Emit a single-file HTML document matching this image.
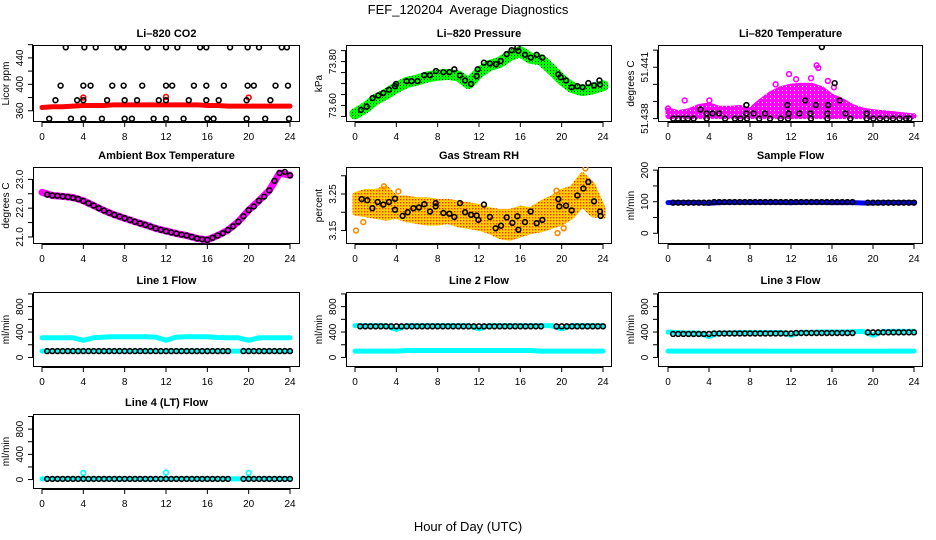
<!DOCTYPE html>
<html><head><meta charset="utf-8"><style>
html,body{margin:0;padding:0;background:#fff}
svg{display:block;font-family:"Liberation Sans",sans-serif}
</style></head><body>
<svg id="chart" width="936" height="540" viewBox="0 0 936 540" xmlns="http://www.w3.org/2000/svg">
<defs>
<pattern id="pgreen" width="3" height="3" patternUnits="userSpaceOnUse"><rect width="3" height="3" fill="#00ff00"/><rect x="1" y="1" width="1" height="1" fill="#004400"/></pattern>
<pattern id="porange" width="3" height="3" patternUnits="userSpaceOnUse"><rect width="3" height="3" fill="#ffd000"/><rect x="1" y="1" width="1.4" height="1.4" fill="#ff3000"/></pattern>
<pattern id="pmag" width="4" height="4" patternUnits="userSpaceOnUse"><rect width="4" height="4" fill="#ff00ff"/><rect x="2" y="2" width="1" height="1" fill="#ffffff"/></pattern>
</defs>
<text x="468" y="14" font-size="13" text-anchor="middle">FEF_120204&#160; Average Diagnostics</text>
<text x="468" y="531" font-size="13" text-anchor="middle">Hour of Day (UTC)</text>
</svg>
<script>
// ---------- data ----------
const hourTicks = [0,4,8,12,16,20,24];
const hours = [0,1,2,3,4,5,6,7,8,9,10,11,12,13,14,15,16,17,18,19,20,21,22,23,24];
const halfHours = [0.5,1,1.5,2,2.5,3,3.5,4,4.5,5,5.5,6,6.5,7,7.5,8,8.5,9,9.5,10,10.5,11,11.5,12,12.5,13,13.5,14,14.5,15,15.5,16,16.5,17,17.5,18,18.5,19,19.5,20,20.5,21,21.5,22,22.5,23,23.5,24];

// CO2
const co2Red = [365,366,366,367,368,368,368,369,369,369,369,369,369,369,369,369,368,368,367,367,367,367,367,367,367];
const co2RedOutHours = [4,12,20];
const co2RedOutVals = [380,381,380];
const co2BlkHours = [2.3,4.1,5.2,7.3,7.9,10.2,12.0,13.1,15.3,15.9,18.2,19.9,21.0,23.2,23.7,
 1.8,4.0,4.7,6.8,7.9,9.7,12.0,12.6,14.7,15.9,17.6,19.9,20.5,22.6,23.8,
 1.3,3.4,4.0,6.3,8.0,9.2,11.3,12.0,14.2,15.9,17.1,19.8,22.1,
 0.7,2.8,4.0,5.8,8.0,8.7,10.8,12.0,13.7,16.0,16.6,19.8,21.6,23.9];
const co2BlkVals = [456,456,456,456,456,456,456,456,456,456,456,456,456,456,456,
 398,398,398,398,398,398,398,398,398,398,398,398,398,398,398,
 376,376,376,376,376,376,376,376,376,376,376,376,376,
 348,348,348,348,348,348,348,348,348,348,348,348,348,348];

// Pressure
const presGreen = [73.562,73.590,73.628,73.652,73.682,73.705,73.716,73.730,73.738,73.742,73.735,73.700,73.750,73.782,73.796,73.828,73.845,73.815,73.808,73.765,73.718,73.682,73.668,73.676,73.690];
const presBlkHours = [0.58,1.13,1.71,2.26,2.74,3.29,3.87,3.97,5.0,5.48,6.06,6.71,7.26,7.84,8.55,9.13,9.61,10.16,10.65,11.23,11.77,11.87,12.48,13.06,13.65,14.10,14.68,15.16,15.71,15.81,16.45,17.0,17.58,18.13,19.68,19.9,20.42,20.97,21.52,22.03,22.58,23.13,23.65,23.71];
const presBlkVals = [73.580,73.595,73.634,73.646,73.657,73.672,73.688,73.698,73.711,73.711,73.711,73.738,73.738,73.757,73.752,73.752,73.765,73.737,73.714,73.698,73.734,73.765,73.795,73.791,73.788,73.803,73.834,73.852,73.865,73.849,73.831,73.818,73.831,73.818,73.742,73.729,73.714,73.683,73.688,73.683,73.702,73.692,73.714,73.695];

// Li-820 temperature
const tempHi = [51.43850,51.43835,51.43845,51.43870,51.43880,51.43860,51.43860,51.43865,51.43850,51.43900,51.43945,51.43975,51.43990,51.43995,51.43995,51.43975,51.43930,51.43905,51.43870,51.43850,51.43840,51.43835,51.43828,51.43822,51.43816];
const tempLo = [51.43812,51.43812,51.43812,51.43812,51.43812,51.43812,51.43812,51.43812,51.43812,51.43812,51.43812,51.43812,51.43812,51.43812,51.43812,51.43812,51.43812,51.43812,51.43812,51.43812,51.43812,51.43812,51.43812,51.43812,51.43812];
const tempOutHours = [14.5,14.66,11.81,1.63,16.19,4.03,13.95,0,12.5,10.5,15.6];
const tempOutVals = [51.44111,51.44096,51.4406,51.43906,51.43983,51.43906,51.44036,51.43859,51.44030,51.44000,51.44020];
const tempBlkHours = [0.51,0.99,1.47,1.95,2.5,3.78,5.57,6.53,7.07,7.71,8.9,9.95,11.0,11.71,13.95,15.55,17.79,19.39,20.03,20.67,21.31,21.95,22.59,23.23,23.55,
 3.78,4.35,4.99,7.65,8.35,9.47,11.78,12.83,13.89,15.55,17.31,19.39,
 3.17,7.65,11.65,13.38,14.43,15.62,16.77,16.26,15.01];
const tempBlkVals = [51.4380,51.4380,51.4380,51.4380,51.4380,51.4380,51.4380,51.4380,51.4380,51.4380,51.4380,51.4380,51.4380,51.4380,51.4380,51.4380,51.4380,51.4380,51.4380,51.4380,51.4380,51.4380,51.4380,51.4380,51.4380,
 51.4383,51.4383,51.4383,51.4383,51.4383,51.4383,51.4383,51.4383,51.4383,51.4383,51.4383,51.4383,
 51.43853,51.43879,51.43879,51.43906,51.43879,51.43879,51.43906,51.44007,51.44218];

// Ambient box temperature
const ambMag = [22.55,22.44,22.41,22.37,22.26,22.09,21.92,21.77,21.65,21.53,21.42,21.30,21.21,21.12,21.05,20.95,20.90,21.05,21.24,21.53,21.93,22.26,22.62,23.22,23.14];
const ambBlk = [22.47,22.44,22.43,22.41,22.39,22.36,22.32,22.25,22.17,22.09,22.0,21.92,21.84,21.77,21.71,21.65,21.59,21.53,21.47,21.42,21.36,21.30,21.25,21.2,21.16,21.12,21.08,21.05,21.0,20.95,20.92,20.9,20.97,21.05,21.13,21.24,21.37,21.53,21.72,21.93,22.06,22.26,22.4,22.62,22.95,23.22,23.26,23.14];

// Gas stream RH
const rhHi = [3.2481,3.2573,3.2573,3.2665,3.2389,3.2389,3.2344,3.2344,3.2298,3.2298,3.2252,3.2206,3.2160,3.2069,3.2023,3.2023,3.2114,3.2069,3.2252,3.2389,3.2573,3.2665,3.3031,3.2757,3.2114];
const rhLo = [3.1977,3.1931,3.1885,3.1839,3.1885,3.1793,3.1748,3.1702,3.1702,3.1748,3.1656,3.1610,3.1564,3.1472,3.1335,3.1289,3.1381,3.1472,3.1518,3.1610,3.1702,3.1885,3.2206,3.1931,3.1885];
const rhOutHours = [0.1,0.8,2.8,4.2,19.5,19.6,20.2,22.3];
const rhOutVals = [3.150,3.173,3.271,3.257,3.259,3.143,3.156,3.320];
const rhBlkHours = [0.65,1.19,1.68,2.19,2.74,3.29,3.87,3.87,4.61,5.10,5.65,6.19,6.71,7.26,7.81,7.81,8.55,9.13,9.61,10.16,10.65,11.23,11.77,11.94,12.48,13.06,13.61,14.13,14.68,15.23,15.71,15.81,16.45,17.0,17.58,18.13,19.68,19.77,20.42,20.97,21.52,22.10,22.58,23.13,23.71,23.77];
const rhBlkVals = [3.236,3.233,3.211,3.228,3.221,3.228,3.237,3.207,3.190,3.200,3.211,3.213,3.222,3.202,3.225,3.216,3.198,3.196,3.187,3.225,3.200,3.193,3.191,3.179,3.221,3.187,3.156,3.163,3.186,3.171,3.189,3.152,3.173,3.202,3.170,3.179,3.236,3.216,3.218,3.205,3.246,3.265,3.283,3.230,3.202,3.190];

// Sample flow
const sampleBlue = [97,97,97,97,95,97,98,98,98,98,98,98,97,98,98,98,97,97,97,96,96,97,97,97,97];
const sampleBlk = [97,97,97,97,97,97,97,97,99,99,99,99,99,99,99,99,99,99,99,99,99,99,99,99,99,99,99,99,99,99,99,99,99,99,99,99,null,null,97,97,97,97,97,97,97,97,97,97];

// Line flows
const l1CyanHi = [310,310,310,310,270,310,320,325,325,325,325,320,270,320,325,325,325,315,310,310,270,310,310,310,310];
const l1CyanLo = [100,100,100,100,100,100,100,100,100,100,100,100,100,100,100,100,100,100,100,100,100,100,100,100,100];
const l1Blk = [100,100,100,100,100,100,100,100,100,100,100,100,100,100,100,100,100,100,100,100,100,100,100,100,100,100,100,100,100,100,100,100,100,100,100,100,null,null,100,100,100,100,100,100,100,100,100,100];
const l2CyanHi = [500,500,500,500,440,500,500,500,500,500,500,500,450,500,500,500,500,500,500,500,450,500,500,500,500];
const l2CyanLo = [100,100,100,100,100,110,110,110,110,110,110,110,110,110,110,110,110,110,100,100,100,100,100,100,100];
const l2Blk = [490,490,490,490,490,490,490,490,490,490,490,490,490,490,490,490,490,490,490,490,490,490,490,490,490,490,490,490,490,490,490,490,490,490,490,490,null,null,490,490,490,490,490,490,490,490,490,490];
const l3CyanHi = [400,390,385,385,330,385,385,390,390,390,390,395,350,395,395,400,400,400,405,410,350,410,410,410,410];
const l3CyanLo = [100,100,100,100,100,100,100,100,100,100,100,100,100,100,100,100,100,100,100,100,100,100,100,100,100];
const l3Blk = [370,370,370,370,370,370,370,370,378,378,378,378,378,378,378,378,378,378,378,378,378,378,378,378,385,385,385,385,385,385,385,385,385,385,385,385,null,null,395,395,395,395,395,395,395,395,395,395];
const l4Cyan = [10,10,10,10,10,10,10,10,10,10,10,10,10,10,10,10,10,10,10,10,10,10,10,10,10];
const l4Blk = [10,10,10,10,10,10,10,10,10,10,10,10,10,10,10,10,10,10,10,10,10,10,10,10,10,10,10,10,10,10,10,10,10,10,10,10,null,null,10,10,10,10,10,10,10,10,10,10];
const l4OutHours = [4,12,20];
const l4OutVals = [105,110,105];

// ---------- drawing ----------
const NS = "http://www.w3.org/2000/svg";
const svg = document.getElementById('chart');
function mk(tag, parent, attrs){
  const e = document.createElementNS(NS, tag);
  for (const k in attrs) e.setAttribute(k, attrs[k]);
  parent.appendChild(e);
  return e;
}
const cols = [{l:33,r:300,x0:42,x24:290},{l:346,r:612,x0:355,x24:603},{l:658,r:923,x0:668,x24:914}];
const rows = [{t:45,b:122},{t:167,b:244},{t:292,b:367},{t:414,b:489}];

function panel(name, title, ytitle, c, r, ymin, ymax, yticks, ylabels, fmt){
  const C = cols[c], R = rows[r];
  const g = mk('g', svg, {});
  
  
  const sx = h => C.x0 + (C.x24 - C.x0) * h / 24;
  const sy = v => R.b - (R.b - R.t) * (v - ymin) / (ymax - ymin);
  const clipId = 'clip-' + name;
  const cp = mk('clipPath', g, {id: clipId});
  mk('rect', cp, {x: C.l, y: R.t, width: C.r - C.l, height: R.b - R.t});
  const t = mk('text', g, {x: (C.l + C.r) / 2, y: R.t - 8, 'font-size': 11, 'font-weight': 'bold', 'text-anchor': 'middle'});
  t.textContent = title;
  
  
  const xa = mk('g', g, {stroke: '#000', 'stroke-width': 1});
  
  
  mk('line', xa, {x1: sx(0), x2: sx(24), y1: R.b + 0.5, y2: R.b + 0.5});
  hourTicks.forEach(h => {
    mk('line', xa, {x1: sx(h), x2: sx(h), y1: R.b, y2: R.b + 5});
    const lt = mk('text', g, {x: sx(h), y: R.b + 18, 'font-size': 10, 'text-anchor': 'middle'});
    lt.textContent = h;
    
    
  });
  const ya = mk('g', g, {stroke: '#000', 'stroke-width': 1});
  
  
  mk('line', ya, {x1: C.l - 0.5, x2: C.l - 0.5, y1: sy(yticks[0]), y2: sy(yticks[yticks.length - 1])});
  yticks.forEach(v => mk('line', ya, {x1: C.l - 5, x2: C.l, y1: sy(v), y2: sy(v)}));
  ylabels.forEach(v => {
    const lx = C.l - 10, ly = sy(v);
    const lt = mk('text', g, {x: lx, y: ly, 'font-size': 10, 'text-anchor': 'middle', transform: `rotate(-90 ${lx} ${ly})`});
    lt.textContent = fmt(v);
    
    
  });
  const yx = C.l - 24, yy = (R.t + R.b) / 2;
  const yt = mk('text', g, {x: yx, y: yy, 'font-size': 10, 'text-anchor': 'middle', transform: `rotate(-90 ${yx} ${yy})`});
  yt.textContent = ytitle;
  
  
  const box = mk('rect', g, {x: C.l + 0.5, y: R.t + 0.5, width: C.r - C.l - 1, height: R.b - R.t - 1, fill: 'none', stroke: '#000', 'stroke-width': 1});
  
  
  const plot = mk('g', g, {'clip-path': `url(#${clipId})`});
  
  
  return {g: plot, sx, sy, name};
}

function band(P, xs, vals, color, width, label){
  const pts = xs.map((h, i) => P.sx(h) + ',' + P.sy(vals[i])).join(' ');
  const pl = mk('polyline', P.g, {points: pts, fill: 'none', stroke: color, 'stroke-width': width, 'stroke-linecap': 'round', 'stroke-linejoin': 'round'});
  
  
}
function area(P, xs, lo, hi, fill, label){
  const up = xs.map((h, i) => P.sx(h) + ',' + P.sy(hi[i]));
  const dn = xs.map((h, i) => P.sx(h) + ',' + P.sy(lo[i])).reverse();
  const pg = mk('polygon', P.g, {points: up.concat(dn).join(' '), fill: fill, stroke: fill, 'stroke-width': 5, 'stroke-linejoin': 'round'});
  
  
}
function pts(P, xs, vals, color, label, r){
  const grp = mk('g', P.g, {fill: 'none', stroke: color, 'stroke-width': 1.6});
  
  
  xs.forEach((h, i) => {
    if (vals[i] === null || vals[i] === undefined) return;
    const c = mk('circle', grp, {cx: P.sx(h), cy: P.sy(vals[i]), r: r || 2.4});
    
    
  });
}
const f0 = v => String(v);
const f1 = v => v.toFixed(1);
const f2 = v => v.toFixed(2);
const f3 = v => v.toFixed(3);
const flowTicks = [0,200,400,600,800,1000];
const flowLabels = [0,400,800];

let P = panel('co2', 'Li\u2013820 CO2', 'Licor ppm', 0, 0, 343, 459.5, [360,380,400,420,440,460], [360,400,440], f0);
band(P, hours, co2Red, '#ff0000', 5, 'co2-red-series');
pts(P, co2RedOutHours, co2RedOutVals, '#ff0000', 'co2-red-outliers');
pts(P, co2BlkHours, co2BlkVals, '#000', 'co2-hourly-points');

P = panel('pressure', 'Li\u2013820 Pressure', 'kPa', 1, 0, 73.525, 73.8756, [73.55,73.60,73.65,73.70,73.75,73.80,73.85], [73.60,73.80], f2);
band(P, hours, presGreen, 'url(#pgreen)', 11, 'pressure-green-series');
pts(P, presBlkHours, presBlkVals, '#000', 'pressure-hourly-points');

P = panel('li820-temp', 'Li\u2013820 Temperature', 'degrees C', 2, 0, 51.4378, 51.4423, [51.438,51.439,51.440,51.441,51.442], [51.438,51.441], f3);
area(P, hours, tempLo, tempHi, 'url(#pmag)', 'temp-magenta-series');
pts(P, tempOutHours, tempOutVals, '#ff00ff', 'temp-magenta-outliers');
pts(P, tempBlkHours, tempBlkVals, '#000', 'temp-hourly-points');

P = panel('ambient', 'Ambient Box Temperature', 'degrees C', 0, 1, 20.756, 23.43, [21,21.5,22,22.5,23], [21,22,23], f1);
band(P, hours, ambMag, '#ff00ff', 7, 'ambient-magenta-series');
pts(P, halfHours, ambBlk, '#000', 'ambient-hourly-points');

P = panel('rh', 'Gas Stream RH', 'percent', 1, 1, 3.113, 3.324, [3.15,3.20,3.25,3.30], [3.15,3.25], f2);
area(P, hours, rhLo, rhHi, 'url(#porange)', 'rh-orange-series');
pts(P, rhOutHours, rhOutVals, '#ff8800', 'rh-orange-outliers');
pts(P, rhBlkHours, rhBlkVals, '#000', 'rh-hourly-points');

P = panel('sample-flow', 'Sample Flow', 'ml/min', 2, 1, -34, 210, [0,50,100,150,200], [0,100,200], f0);
band(P, hours, sampleBlue, '#0000ff', 5, 'sample-blue-series');
pts(P, halfHours, sampleBlk, '#000', 'sample-hourly-points');

P = panel('line1', 'Line 1 Flow', 'ml/min', 0, 2, -150, 1030, flowTicks, flowLabels, f0);
band(P, hours, l1CyanHi, '#00ffff', 5, 'line1-cyan-upper');
band(P, hours, l1CyanLo, '#00ffff', 5, 'line1-cyan-lower');
pts(P, halfHours, l1Blk, '#000', 'line1-hourly-points');

P = panel('line2', 'Line 2 Flow', 'ml/min', 1, 2, -150, 1030, flowTicks, flowLabels, f0);
band(P, hours, l2CyanHi, '#00ffff', 5, 'line2-cyan-upper');
band(P, hours, l2CyanLo, '#00ffff', 5, 'line2-cyan-lower');
pts(P, halfHours, l2Blk, '#000', 'line2-hourly-points');

P = panel('line3', 'Line 3 Flow', 'ml/min', 2, 2, -150, 1030, flowTicks, flowLabels, f0);
band(P, hours, l3CyanHi, '#00ffff', 5, 'line3-cyan-upper');
band(P, hours, l3CyanLo, '#00ffff', 5, 'line3-cyan-lower');
pts(P, halfHours, l3Blk, '#000', 'line3-hourly-points');

P = panel('line4', 'Line 4 (LT) Flow', 'ml/min', 0, 3, -150, 1040, flowTicks, flowLabels, f0);
band(P, hours, l4Cyan, '#00ffff', 5, 'line4-cyan-series');
pts(P, l4OutHours, l4OutVals, '#00ffff', 'line4-cyan-outliers');
pts(P, halfHours, l4Blk, '#000', 'line4-hourly-points');
</script>
</body></html>
